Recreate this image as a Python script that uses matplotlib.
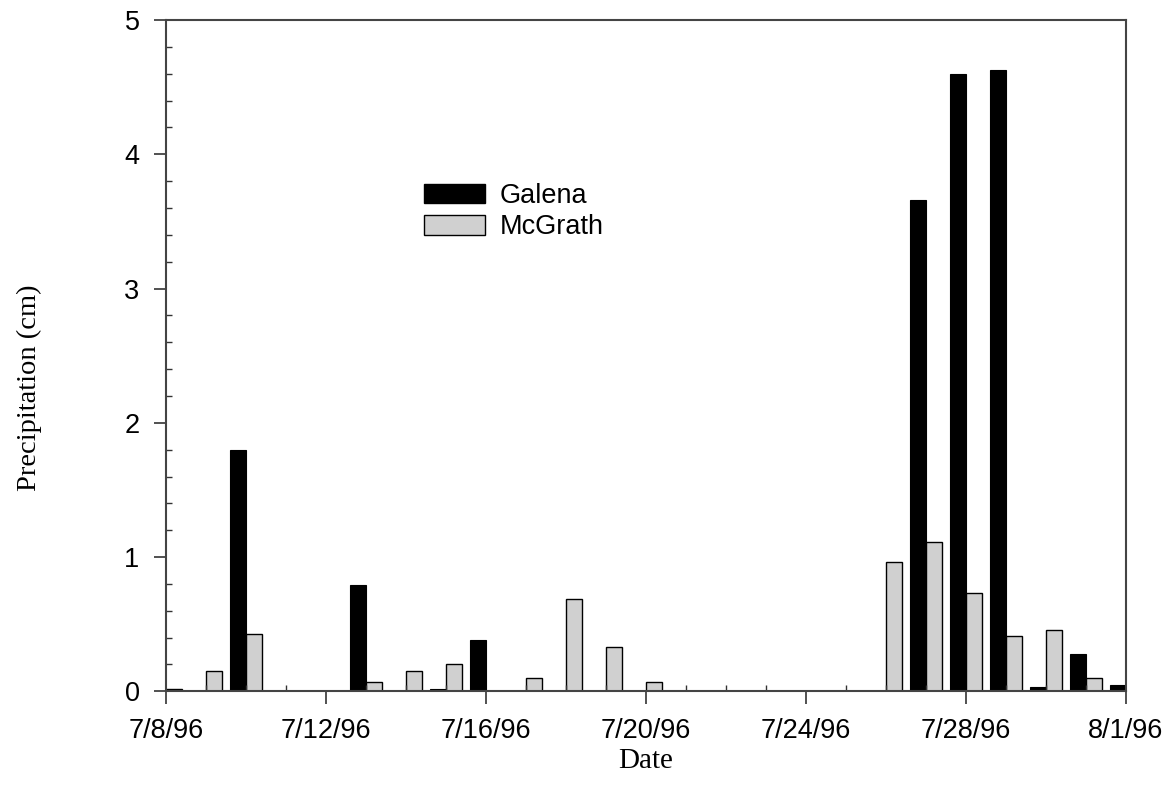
import numpy as np
import pandas as pd
import matplotlib
matplotlib.use("Agg")
import matplotlib.pyplot as plt
import matplotlib.dates as mdates
from matplotlib.patches import Patch
from matplotlib.ticker import MultipleLocator

# === Data (daily precipitation, cm) ===
dates = pd.date_range("1996-07-08", "1996-08-01", freq="D")
galena = [0, 0, 1.80, 0, 0, 0.79, 0, 0.02, 0.38, 0, 0, 0, 0,
          0, 0, 0, 0, 0, 0, 3.66, 4.60, 4.63, 0.03, 0.28, 0.05]
mcgrath = [0.02, 0.15, 0.43, 0, 0, 0.07, 0.15, 0.20, 0, 0.10, 0.69, 0.33, 0.07,
           0, 0, 0, 0, 0, 0.96, 1.11, 0.73, 0.41, 0.46, 0.10, 0]
tick_dates = pd.to_datetime(["1996-07-08", "1996-07-12", "1996-07-16", "1996-07-20",
                             "1996-07-24", "1996-07-28", "1996-08-01"])

sans = "Liberation Sans"
serif = "Liberation Serif"

fig = plt.figure(figsize=(11.68, 7.94), dpi=100)
ax = fig.add_axes([0.1421, 0.1293, 0.8219, 0.8455])

x = mdates.date2num(dates)
ax.bar(x, galena, width=-0.4, align="edge", color="black", edgecolor="black", linewidth=0.8)
ax.bar(x, mcgrath, width=0.4, align="edge", color="#d0d0d0", edgecolor="black", linewidth=1.0)

ax.set_xlim(mdates.date2num(tick_dates[0]), mdates.date2num(tick_dates[-1]))
ax.set_ylim(0, 5)

ax.set_xticks(mdates.date2num(tick_dates))
ax.set_xticklabels([f"{d.month}/{d.day}/96" for d in tick_dates], fontfamily=sans, fontsize=19.5)
ax.xaxis.set_minor_locator(MultipleLocator(1))
ax.yaxis.set_major_locator(MultipleLocator(1))
ax.yaxis.set_minor_locator(MultipleLocator(0.2))
for lab in ax.get_yticklabels():
    lab.set_fontfamily(sans)
    lab.set_fontsize(19.5)

ax.tick_params(which="major", direction="out", length=9, width=1.2, color="#333333")
ax.tick_params(axis="x", which="major", pad=10)
ax.tick_params(axis="y", which="major", pad=10)
ax.tick_params(which="minor", direction="in", length=4, width=1.0, color="#333333")
for s in ax.spines.values():
    s.set_linewidth(1.5)
    s.set_color("#444444")

ax.set_xlabel("Date", fontfamily=serif, fontsize=21, labelpad=3)
ax.set_ylabel("Precipitation (cm)", fontfamily=serif, fontsize=20.5)
ax.yaxis.set_label_coords((42 - 166) / 960, 0.452)

handles = [Patch(facecolor="black", edgecolor="black", label="Galena"),
           Patch(facecolor="#d0d0d0", edgecolor="black", label="McGrath")]
ax.legend(handles=handles, loc="upper left", bbox_to_anchor=(424 / 1168, 1 - 183 / 794),
          bbox_transform=fig.transFigure, frameon=False, borderpad=0, borderaxespad=0,
          handlelength=2.26, handleheight=0.74, handletextpad=0.55, labelspacing=0.2,
          prop={"family": sans, "size": 19.5})

plt.savefig("out.png", dpi=100)
